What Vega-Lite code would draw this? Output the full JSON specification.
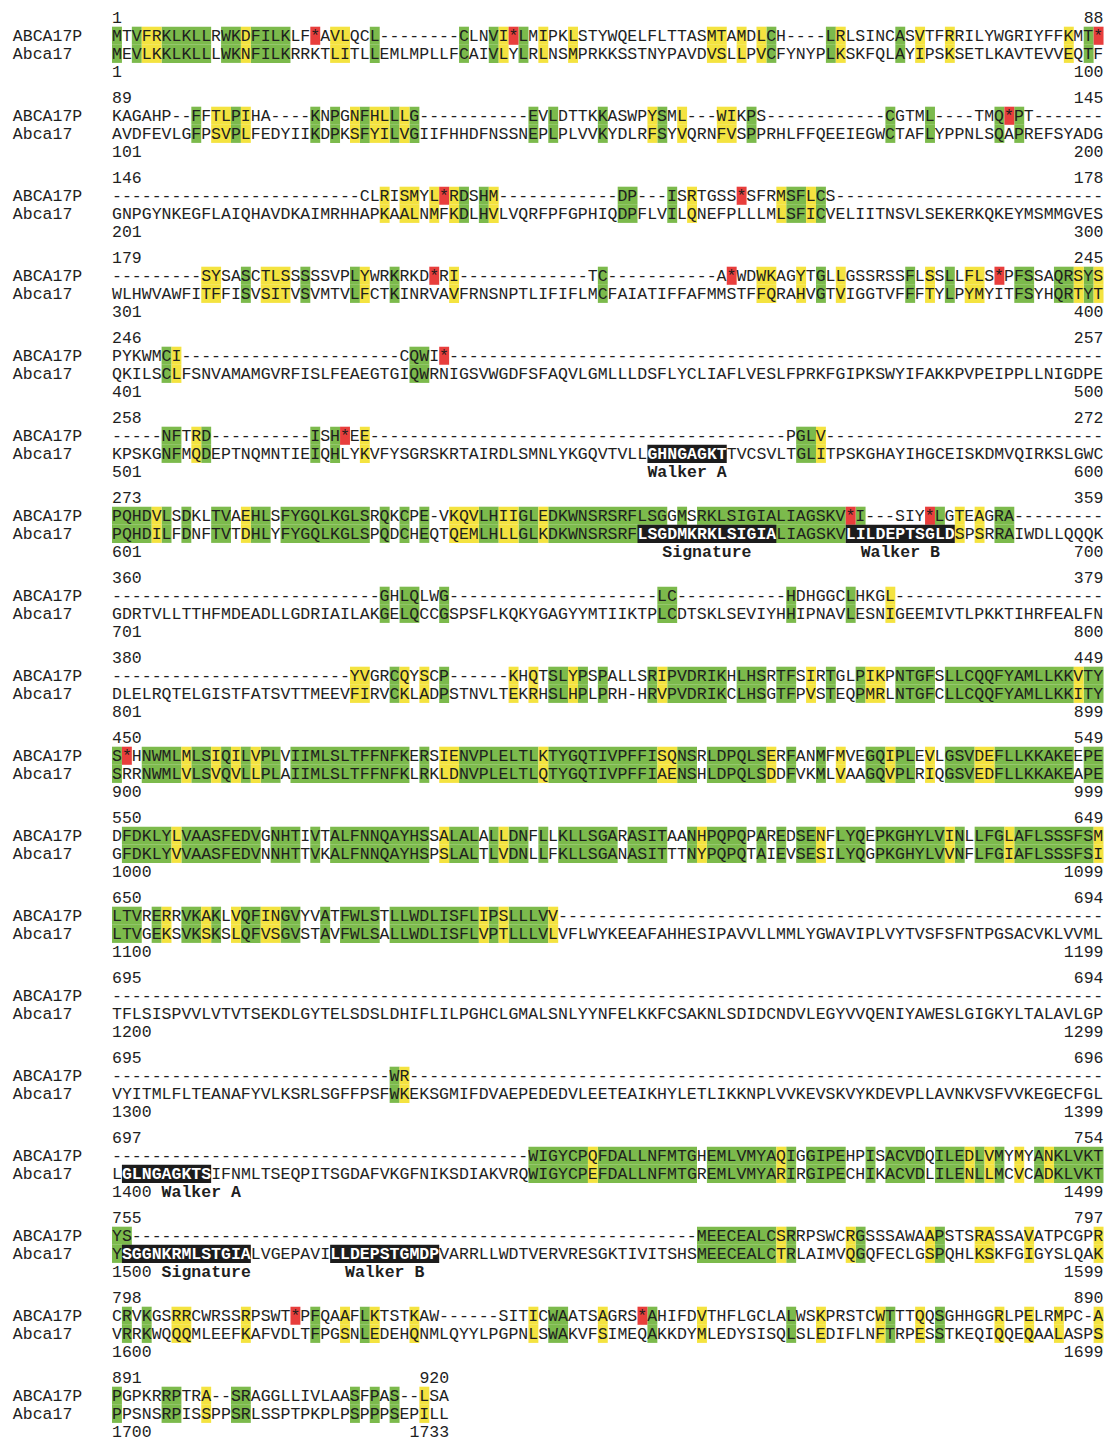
{
"$schema":"https://vega.github.io/schema/vega-lite/v6.json",
"padding":0,
"background":"#ffffff",
"bounds":"flush",
"spacing":0,
"config":{"view":{"stroke":null},"text":{"font":"Liberation Mono","fontSize":16.52,"color":"#1e1e1e"}},
"data":{"values":[
{"k":"s","b":1,"y":"ABCA17P","t":"MTVFRKLKLLRWKDFILKLF*AVLQCL--------CLNVI*LMIPKLSTYWQELFLTTASMTAMDLCH----LRLSINCASVTFRRILYWGRIYFFKMT*"},
{"k":"s","b":1,"y":"Abca17","t":"MEVLKKLKLLLWKNFILKRRKTLITLLEMLMPLLFCAIVLYLRLNSMPRKKSSTNYPAVDVSLLPVCFYNYPLKSKFQLAYIPSKSETLKAVTEVVEQTF"},
{"k":"s","b":2,"y":"ABCA17P","t":"KAGAHP--FFTLPIHA----KNPGNFHLLLG-----------EVLDTTKKASWPYSML---WIKPS------------CGTML----TMQ*PT-------"},
{"k":"s","b":2,"y":"Abca17","t":"AVDFEVLGFPSVPLFEDYIIKDPKSFYILVGIIFHHDFNSSNEPLPLVVKYDLRFSYVQRNFVSPPRHLFFQEEIEGWCTAFLYPPNLSQAPREFSYADG"},
{"k":"s","b":3,"y":"ABCA17P","t":"-------------------------CLRISMYL*RDSHM------------DP---ISRTGSS*SFRMSFLCS---------------------------"},
{"k":"s","b":3,"y":"Abca17","t":"GNPGYNKEGFLAIQHAVDKAIMRHHAPKAALNMFKDLHVLVQRFPFGPHIQDPFLVILQNEFPLLLMLSFICVELIITNSVLSEKERKQKEYMSMMGVES"},
{"k":"s","b":4,"y":"ABCA17P","t":"---------SYSASCTLSSSSSVPLYWRKRKD*RI-------------TC-----------A*WDWKAGYTGLLGSSRSSFLSSLLFLS*PFSSAQRSYS"},
{"k":"s","b":4,"y":"Abca17","t":"WLHWVAWFITFFISVSITVSVMTVLFCTKINRVAVFRNSNPTLIFIFLMCFAIATIFFAFMMSTFFQRAHVGTVIGGTVFFFTYLPYMYITFSYHQRTYT"},
{"k":"s","b":5,"y":"ABCA17P","t":"PYKWMCI----------------------CQWI*------------------------------------------------------------------"},
{"k":"s","b":5,"y":"Abca17","t":"QKILSCLFSNVAMAMGVRFISLFEAEGTGIQWRNIGSVWGDFSFAQVLGMLLLDSFLYCLIAFLVESLFPRKFGIPKSWYIFAKKPVPEIPPLLNIGDPE"},
{"k":"s","b":6,"y":"ABCA17P","t":"-----NFTRD----------ISH*EE------------------------------------------PGLV----------------------------"},
{"k":"s","b":6,"y":"Abca17","t":"KPSKGNFMQDEPTNQMNTIEIQHLYKVFYSGRSKRTAIRDLSMNLYKGQVTVLL"},
{"k":"t","b":6,"y":"Abca17","x0":62,"t":"TVCSVLTGLITPSKGHAYIHGCEISKDMVQIRKSLGWC"},
{"k":"s","b":7,"y":"ABCA17P","t":"PQHDVLSDKLTVAEHLSFYGQLKGLSRQKCPE-VKQVLHIIGLEDKWNSRSRFLSGGMSRKLSIGIALIAGSKV*I---SIY*LGTEAGRA---------"},
{"k":"s","b":7,"y":"Abca17","t":"PQHDILFDNFTVTDHLYFYGQLKGLSPQDCHEQTQEMLHLLGLKDKWNSRSRF"},
{"k":"t","b":7,"y":"Abca17","x0":67,"t":"LIAGSKV"},
{"k":"t","b":7,"y":"Abca17","x0":85,"t":"SPSRRAIWDLLQQQK"},
{"k":"s","b":8,"y":"ABCA17P","t":"---------------------------GHLQLWG---------------------LC-----------HDHGGCLHKGL---------------------"},
{"k":"s","b":8,"y":"Abca17","t":"GDRTVLLTTHFMDEADLLGDRIAILAKGELQCCGSPSFLKQKYGAGYYMTIIKTPLCDTSKLSEVIYHHIPNAVLESNIGEEMIVTLPKKTIHRFEALFN"},
{"k":"s","b":9,"y":"ABCA17P","t":"------------------------YVGRCQYSCP------KHQTSLYPSPALLSRIPVDRIKHLHSRTFSIRTGLPIKPNTGFSLLCQQFYAMLLKKVTY"},
{"k":"s","b":9,"y":"Abca17","t":"DLELRQTELGISTFATSVTTMEEVFIRVCKLADPSTNVLTEKRHSLHPLPRH-HRVPVDRIKCLHSGTFPVSTEQPMRLNTGFCLLCQQFYAMLLKKITY"},
{"k":"s","b":10,"y":"ABCA17P","t":"S*HNWMLMLSIQILVPLVIIMLSLTFFNFKERSIENVPLELTLKTYGQTIVPFFISQNSRLDPQLSERFANMFMVEGQIPLEVLGSVDEFLLKKAKEEPE"},
{"k":"s","b":10,"y":"Abca17","t":"SRRNWMLVLSVQVLLPLAIIMLSLTFFNFKLRKLDNVPLELTLQTYGQTIVPFFIAENSHLDPQLSDDFVKMLVAAGQVPLRIQGSVEDFLLKKAKEAPE"},
{"k":"s","b":11,"y":"ABCA17P","t":"DFDKLYLVAASFEDVGNHTIVTALFNNQAYHSSALALALLDNFLLKLLSGARASITAANHPQPQPAREDSENFLYQEPKGHYLVINLLFGLAFLSSSFSM"},
{"k":"s","b":11,"y":"Abca17","t":"GFDKLYVVAASFEDVNNHTTVKALFNNQAYHSPSLALTLVDNLLFKLLSGANASITTTNYPQPQTAIEVSESILYQGPKGHYLVVNFLFGIAFLSSSFSI"},
{"k":"s","b":12,"y":"ABCA17P","t":"LTVRERRVKAKLVQFINGVYVATFWLSTLLWDLISFLIPSLLLVV-------------------------------------------------------"},
{"k":"s","b":12,"y":"Abca17","t":"LTVGEKSVKSKSLQFVSGVSTAVFWLSALLWDLISFLVPTLLLVLVFLWYKEEAFAHHESIPAVVLLMMLYGWAVIPLVYTVSFSFNTPGSACVKLVVML"},
{"k":"s","b":13,"y":"ABCA17P","t":"----------------------------------------------------------------------------------------------------"},
{"k":"s","b":13,"y":"Abca17","t":"TFLSISPVVLVTVTSEKDLGYTELSDSLDHIFLILPGHCLGMALSNLYYNFELKKFCSAKNLSDIDCNDVLEGYVVQENIYAWESLGIGKYLTALAVLGP"},
{"k":"s","b":14,"y":"ABCA17P","t":"----------------------------WR----------------------------------------------------------------------"},
{"k":"s","b":14,"y":"Abca17","t":"VYITMLFLTEANAFYVLKSRLSGFFPSFWKEKSGMIFDVAEPEDEDVLEETEAIKHYLETLIKKNPLVVKEVSKVYKDEVPLLAVNKVSFVVKEGECFGL"},
{"k":"s","b":15,"y":"ABCA17P","t":"------------------------------------------WIGYCPQFDALLNFMTGHEMLVMYAQIGGIPEHPISACVDQILEDLVMYMYANKLVKT"},
{"k":"s","b":15,"y":"Abca17","t":"L"},
{"k":"t","b":15,"y":"Abca17","x0":10,"t":"IFNMLTSEQPITSGDAFVKGFNIKSDIAKVRQWIGYCPEFDALLNFMTGREMLVMYARIRGIPECHIKACVDLILENLLMCVCADKLVKT"},
{"k":"s","b":16,"y":"ABCA17P","t":"YS---------------------------------------------------------MEECEALCSRRPSWCRGSSSAWAAPSTSRASSAVATPCGPR"},
{"k":"s","b":16,"y":"Abca17","t":"Y"},
{"k":"t","b":16,"y":"Abca17","x0":14,"t":"LVGEPAVI"},
{"k":"t","b":16,"y":"Abca17","x0":33,"t":"VARRLLWDTVERVRESGKTIVITSHSMEECEALCTRLAIMVQGQFECLGSPQHLKSKFGIGYSLQAK"},
{"k":"s","b":17,"y":"ABCA17P","t":"CRVKGSRRCWRSSRPSWT*PFQAAFLKTSTKAW------SITICWAATSAGRS*AHIFDVTHFLGCLALWSKPRSTCWTTTQQSGHHGGRLPELRMPC-A"},
{"k":"s","b":17,"y":"Abca17","t":"VRRKWQQQMLEEFKAFVDLTFPGSNLEDEHQNMLQYYLPGPNLSWAKVFSIMEQAKKDYMLEDYSISQLSLEDIFLNFTRPESSTKEQIQQEQAALASPS"},
{"k":"s","b":18,"y":"ABCA17P","t":"PGPKRRPTRA--SRAGGLLIVLAASFPAS--LSA"},
{"k":"s","b":18,"y":"Abca17","t":"PPSNSRPISSPPSRLSSPTPKPLPSPPPSEPILL"},
{"k":"n","b":1,"y":"top","l":"1","r":"88","e":100},{"k":"n","b":1,"y":"bottom","l":"1","r":"100","e":100},
{"k":"n","b":2,"y":"top","l":"89","r":"145","e":100},{"k":"n","b":2,"y":"bottom","l":"101","r":"200","e":100},
{"k":"n","b":3,"y":"top","l":"146","r":"178","e":100},{"k":"n","b":3,"y":"bottom","l":"201","r":"300","e":100},
{"k":"n","b":4,"y":"top","l":"179","r":"245","e":100},{"k":"n","b":4,"y":"bottom","l":"301","r":"400","e":100},
{"k":"n","b":5,"y":"top","l":"246","r":"257","e":100},{"k":"n","b":5,"y":"bottom","l":"401","r":"500","e":100},
{"k":"n","b":6,"y":"top","l":"258","r":"272","e":100},{"k":"n","b":6,"y":"bottom","l":"501","r":"600","e":100},
{"k":"n","b":7,"y":"top","l":"273","r":"359","e":100},{"k":"n","b":7,"y":"bottom","l":"601","r":"700","e":100},
{"k":"n","b":8,"y":"top","l":"360","r":"379","e":100},{"k":"n","b":8,"y":"bottom","l":"701","r":"800","e":100},
{"k":"n","b":9,"y":"top","l":"380","r":"449","e":100},{"k":"n","b":9,"y":"bottom","l":"801","r":"899","e":100},
{"k":"n","b":10,"y":"top","l":"450","r":"549","e":100},{"k":"n","b":10,"y":"bottom","l":"900","r":"999","e":100},
{"k":"n","b":11,"y":"top","l":"550","r":"649","e":100},{"k":"n","b":11,"y":"bottom","l":"1000","r":"1099","e":100},
{"k":"n","b":12,"y":"top","l":"650","r":"694","e":100},{"k":"n","b":12,"y":"bottom","l":"1100","r":"1199","e":100},
{"k":"n","b":13,"y":"top","l":"695","r":"694","e":100},{"k":"n","b":13,"y":"bottom","l":"1200","r":"1299","e":100},
{"k":"n","b":14,"y":"top","l":"695","r":"696","e":100},{"k":"n","b":14,"y":"bottom","l":"1300","r":"1399","e":100},
{"k":"n","b":15,"y":"top","l":"697","r":"754","e":100},{"k":"n","b":15,"y":"bottom","l":"1400","r":"1499","e":100},
{"k":"n","b":16,"y":"top","l":"755","r":"797","e":100},{"k":"n","b":16,"y":"bottom","l":"1500","r":"1599","e":100},
{"k":"n","b":17,"y":"top","l":"798","r":"890","e":100},{"k":"n","b":17,"y":"bottom","l":"1600","r":"1699","e":100},
{"k":"n","b":18,"y":"top","l":"891","r":"920","e":34},{"k":"n","b":18,"y":"bottom","l":"1700","r":"1733","e":34},
{"k":"m","b":6,"x0":54,"x1":62,"t":"GHNGAGKT"},
{"k":"m","b":7,"x0":53,"x1":67,"t":"LSGDMKRKLSIGIA"},
{"k":"m","b":7,"x0":74,"x1":85,"t":"LILDEPTSGLD"},
{"k":"m","b":15,"x0":1,"x1":10,"t":"GLNGAGKTS"},
{"k":"m","b":16,"x0":1,"x1":14,"t":"SGGNKRMLSTGIA"},
{"k":"m","b":16,"x0":22,"x1":33,"t":"LLDEPSTGMDP"},
{"k":"a","b":6,"x":58,"t":"Walker A"},
{"k":"a","b":7,"x":60,"t":"Signature"},
{"k":"a","b":7,"x":79.5,"t":"Walker B"},
{"k":"a","b":15,"x":9,"t":"Walker A"},
{"k":"a","b":16,"x":9.5,"t":"Signature"},
{"k":"a","b":16,"x":27.5,"t":"Walker B"},
{"k":"c","b":1,"x0":0,"x1":1,"c":"g"},{"k":"c","b":1,"x0":2,"x1":3,"c":"g"},{"k":"c","b":1,"x0":5,"x1":10,"c":"g"},{"k":"c","b":1,"x0":11,"x1":13,"c":"g"},{"k":"c","b":1,"x0":14,"x1":18,"c":"g"},{"k":"c","b":1,"x0":26,"x1":27,"c":"g"},{"k":"c","b":1,"x0":35,"x1":36,"c":"g"},{"k":"c","b":1,"x0":38,"x1":39,"c":"g"},{"k":"c","b":1,"x0":41,"x1":42,"c":"g"},{"k":"c","b":1,"x0":66,"x1":67,"c":"g"},{"k":"c","b":1,"x0":72,"x1":73,"c":"g"},{"k":"c","b":1,"x0":79,"x1":80,"c":"g"},{"k":"c","b":1,"x0":98,"x1":99,"c":"g"},
{"k":"c","b":1,"x0":3,"x1":5,"c":"y"},{"k":"c","b":1,"x0":13,"x1":14,"c":"y"},{"k":"c","b":1,"x0":22,"x1":24,"c":"y"},{"k":"c","b":1,"x0":39,"x1":40,"c":"y"},{"k":"c","b":1,"x0":43,"x1":44,"c":"y"},{"k":"c","b":1,"x0":46,"x1":47,"c":"y"},{"k":"c","b":1,"x0":60,"x1":62,"c":"y"},{"k":"c","b":1,"x0":63,"x1":64,"c":"y"},{"k":"c","b":1,"x0":65,"x1":66,"c":"y"},{"k":"c","b":1,"x0":73,"x1":74,"c":"y"},{"k":"c","b":1,"x0":81,"x1":82,"c":"y"},{"k":"c","b":1,"x0":84,"x1":85,"c":"y"},{"k":"c","b":1,"x0":96,"x1":97,"c":"y"},
{"k":"c","b":1,"x0":20,"x1":21,"c":"r"},{"k":"c","b":1,"x0":40,"x1":41,"c":"r"},{"k":"c","b":1,"x0":99,"x1":100,"c":"r"},
{"k":"c","b":2,"x0":8,"x1":9,"c":"g"},{"k":"c","b":2,"x0":12,"x1":13,"c":"g"},{"k":"c","b":2,"x0":20,"x1":21,"c":"g"},{"k":"c","b":2,"x0":22,"x1":23,"c":"g"},{"k":"c","b":2,"x0":25,"x1":26,"c":"g"},{"k":"c","b":2,"x0":28,"x1":29,"c":"g"},{"k":"c","b":2,"x0":30,"x1":31,"c":"g"},{"k":"c","b":2,"x0":42,"x1":43,"c":"g"},{"k":"c","b":2,"x0":44,"x1":45,"c":"g"},{"k":"c","b":2,"x0":49,"x1":50,"c":"g"},{"k":"c","b":2,"x0":55,"x1":56,"c":"g"},{"k":"c","b":2,"x0":64,"x1":65,"c":"g"},{"k":"c","b":2,"x0":78,"x1":79,"c":"g"},{"k":"c","b":2,"x0":82,"x1":83,"c":"g"},{"k":"c","b":2,"x0":89,"x1":90,"c":"g"},{"k":"c","b":2,"x0":91,"x1":92,"c":"g"},
{"k":"c","b":2,"x0":10,"x1":12,"c":"y"},{"k":"c","b":2,"x0":13,"x1":14,"c":"y"},{"k":"c","b":2,"x0":24,"x1":25,"c":"y"},{"k":"c","b":2,"x0":26,"x1":28,"c":"y"},{"k":"c","b":2,"x0":29,"x1":30,"c":"y"},{"k":"c","b":2,"x0":54,"x1":55,"c":"y"},{"k":"c","b":2,"x0":57,"x1":58,"c":"y"},{"k":"c","b":2,"x0":61,"x1":63,"c":"y"},
{"k":"c","b":2,"x0":90,"x1":91,"c":"r"},
{"k":"c","b":3,"x0":35,"x1":36,"c":"g"},{"k":"c","b":3,"x0":37,"x1":38,"c":"g"},{"k":"c","b":3,"x0":51,"x1":53,"c":"g"},{"k":"c","b":3,"x0":56,"x1":57,"c":"g"},{"k":"c","b":3,"x0":68,"x1":70,"c":"g"},{"k":"c","b":3,"x0":71,"x1":72,"c":"g"},
{"k":"c","b":3,"x0":27,"x1":28,"c":"y"},{"k":"c","b":3,"x0":29,"x1":31,"c":"y"},{"k":"c","b":3,"x0":32,"x1":33,"c":"y"},{"k":"c","b":3,"x0":34,"x1":35,"c":"y"},{"k":"c","b":3,"x0":38,"x1":39,"c":"y"},{"k":"c","b":3,"x0":58,"x1":59,"c":"y"},{"k":"c","b":3,"x0":67,"x1":68,"c":"y"},{"k":"c","b":3,"x0":70,"x1":71,"c":"y"},
{"k":"c","b":3,"x0":33,"x1":34,"c":"r"},{"k":"c","b":3,"x0":63,"x1":64,"c":"r"},
{"k":"c","b":4,"x0":13,"x1":14,"c":"g"},{"k":"c","b":4,"x0":19,"x1":20,"c":"g"},{"k":"c","b":4,"x0":24,"x1":25,"c":"g"},{"k":"c","b":4,"x0":28,"x1":29,"c":"g"},{"k":"c","b":4,"x0":49,"x1":50,"c":"g"},{"k":"c","b":4,"x0":71,"x1":72,"c":"g"},{"k":"c","b":4,"x0":80,"x1":81,"c":"g"},{"k":"c","b":4,"x0":84,"x1":85,"c":"g"},{"k":"c","b":4,"x0":91,"x1":93,"c":"g"},{"k":"c","b":4,"x0":95,"x1":97,"c":"g"},{"k":"c","b":4,"x0":98,"x1":99,"c":"g"},
{"k":"c","b":4,"x0":9,"x1":11,"c":"y"},{"k":"c","b":4,"x0":15,"x1":18,"c":"y"},{"k":"c","b":4,"x0":25,"x1":26,"c":"y"},{"k":"c","b":4,"x0":34,"x1":35,"c":"y"},{"k":"c","b":4,"x0":65,"x1":67,"c":"y"},{"k":"c","b":4,"x0":69,"x1":70,"c":"y"},{"k":"c","b":4,"x0":73,"x1":74,"c":"y"},{"k":"c","b":4,"x0":82,"x1":83,"c":"y"},{"k":"c","b":4,"x0":86,"x1":88,"c":"y"},{"k":"c","b":4,"x0":97,"x1":98,"c":"y"},{"k":"c","b":4,"x0":99,"x1":100,"c":"y"},
{"k":"c","b":4,"x0":32,"x1":33,"c":"r"},{"k":"c","b":4,"x0":62,"x1":63,"c":"r"},{"k":"c","b":4,"x0":89,"x1":90,"c":"r"},
{"k":"c","b":5,"x0":5,"x1":6,"c":"g"},{"k":"c","b":5,"x0":30,"x1":32,"c":"g"},{"k":"c","b":5,"x0":6,"x1":7,"c":"y"},{"k":"c","b":5,"x0":33,"x1":34,"c":"r"},
{"k":"c","b":6,"x0":5,"x1":7,"c":"g"},{"k":"c","b":6,"x0":9,"x1":10,"c":"g"},{"k":"c","b":6,"x0":20,"x1":21,"c":"g"},{"k":"c","b":6,"x0":22,"x1":23,"c":"g"},{"k":"c","b":6,"x0":69,"x1":71,"c":"g"},
{"k":"c","b":6,"x0":8,"x1":9,"c":"y"},{"k":"c","b":6,"x0":25,"x1":26,"c":"y"},{"k":"c","b":6,"x0":71,"x1":72,"c":"y"},{"k":"c","b":6,"x0":23,"x1":24,"c":"r"},
{"k":"c","b":7,"x0":0,"x1":4,"c":"g"},{"k":"c","b":7,"x0":5,"x1":6,"c":"g"},{"k":"c","b":7,"x0":7,"x1":8,"c":"g"},{"k":"c","b":7,"x0":10,"x1":12,"c":"g"},{"k":"c","b":7,"x0":14,"x1":16,"c":"g"},{"k":"c","b":7,"x0":17,"x1":26,"c":"g"},{"k":"c","b":7,"x0":27,"x1":28,"c":"g"},{"k":"c","b":7,"x0":29,"x1":30,"c":"g"},{"k":"c","b":7,"x0":31,"x1":32,"c":"g"},{"k":"c","b":7,"x0":37,"x1":39,"c":"g"},{"k":"c","b":7,"x0":41,"x1":43,"c":"g"},{"k":"c","b":7,"x0":44,"x1":56,"c":"g"},{"k":"c","b":7,"x0":57,"x1":58,"c":"g"},{"k":"c","b":7,"x0":59,"x1":74,"c":"g"},{"k":"c","b":7,"x0":75,"x1":76,"c":"g"},{"k":"c","b":7,"x0":83,"x1":84,"c":"g"},{"k":"c","b":7,"x0":89,"x1":91,"c":"g"},
{"k":"c","b":7,"x0":4,"x1":5,"c":"y"},{"k":"c","b":7,"x0":13,"x1":14,"c":"y"},{"k":"c","b":7,"x0":34,"x1":37,"c":"y"},{"k":"c","b":7,"x0":39,"x1":41,"c":"y"},{"k":"c","b":7,"x0":43,"x1":44,"c":"y"},{"k":"c","b":7,"x0":85,"x1":86,"c":"y"},{"k":"c","b":7,"x0":87,"x1":88,"c":"y"},
{"k":"c","b":7,"x0":74,"x1":75,"c":"r"},{"k":"c","b":7,"x0":82,"x1":83,"c":"r"},
{"k":"c","b":8,"x0":27,"x1":28,"c":"g"},{"k":"c","b":8,"x0":29,"x1":31,"c":"g"},{"k":"c","b":8,"x0":33,"x1":34,"c":"g"},{"k":"c","b":8,"x0":55,"x1":57,"c":"g"},{"k":"c","b":8,"x0":68,"x1":69,"c":"g"},{"k":"c","b":8,"x0":74,"x1":75,"c":"g"},{"k":"c","b":8,"x0":78,"x1":79,"c":"y"},
{"k":"c","b":9,"x0":28,"x1":29,"c":"g"},{"k":"c","b":9,"x0":33,"x1":34,"c":"g"},{"k":"c","b":9,"x0":44,"x1":46,"c":"g"},{"k":"c","b":9,"x0":47,"x1":48,"c":"g"},{"k":"c","b":9,"x0":49,"x1":50,"c":"g"},{"k":"c","b":9,"x0":54,"x1":55,"c":"g"},{"k":"c","b":9,"x0":56,"x1":62,"c":"g"},{"k":"c","b":9,"x0":63,"x1":66,"c":"g"},{"k":"c","b":9,"x0":67,"x1":69,"c":"g"},{"k":"c","b":9,"x0":72,"x1":73,"c":"g"},{"k":"c","b":9,"x0":75,"x1":76,"c":"g"},{"k":"c","b":9,"x0":79,"x1":83,"c":"g"},{"k":"c","b":9,"x0":84,"x1":97,"c":"g"},{"k":"c","b":9,"x0":98,"x1":100,"c":"g"},
{"k":"c","b":9,"x0":24,"x1":26,"c":"y"},{"k":"c","b":9,"x0":29,"x1":30,"c":"y"},{"k":"c","b":9,"x0":31,"x1":32,"c":"y"},{"k":"c","b":9,"x0":40,"x1":41,"c":"y"},{"k":"c","b":9,"x0":42,"x1":43,"c":"y"},{"k":"c","b":9,"x0":46,"x1":47,"c":"y"},{"k":"c","b":9,"x0":55,"x1":56,"c":"y"},{"k":"c","b":9,"x0":70,"x1":71,"c":"y"},{"k":"c","b":9,"x0":76,"x1":78,"c":"y"},{"k":"c","b":9,"x0":97,"x1":98,"c":"y"},
{"k":"c","b":10,"x0":0,"x1":1,"c":"g"},{"k":"c","b":10,"x0":3,"x1":7,"c":"g"},{"k":"c","b":10,"x0":8,"x1":10,"c":"g"},{"k":"c","b":10,"x0":11,"x1":12,"c":"g"},{"k":"c","b":10,"x0":13,"x1":14,"c":"g"},{"k":"c","b":10,"x0":15,"x1":17,"c":"g"},{"k":"c","b":10,"x0":18,"x1":30,"c":"g"},{"k":"c","b":10,"x0":31,"x1":32,"c":"g"},{"k":"c","b":10,"x0":35,"x1":43,"c":"g"},{"k":"c","b":10,"x0":44,"x1":55,"c":"g"},{"k":"c","b":10,"x0":57,"x1":59,"c":"g"},{"k":"c","b":10,"x0":60,"x1":66,"c":"g"},{"k":"c","b":10,"x0":68,"x1":69,"c":"g"},{"k":"c","b":10,"x0":71,"x1":72,"c":"g"},{"k":"c","b":10,"x0":76,"x1":78,"c":"g"},{"k":"c","b":10,"x0":79,"x1":81,"c":"g"},{"k":"c","b":10,"x0":84,"x1":87,"c":"g"},{"k":"c","b":10,"x0":89,"x1":97,"c":"g"},{"k":"c","b":10,"x0":98,"x1":100,"c":"g"},
{"k":"c","b":10,"x0":7,"x1":8,"c":"y"},{"k":"c","b":10,"x0":10,"x1":11,"c":"y"},{"k":"c","b":10,"x0":12,"x1":13,"c":"y"},{"k":"c","b":10,"x0":14,"x1":15,"c":"y"},{"k":"c","b":10,"x0":33,"x1":35,"c":"y"},{"k":"c","b":10,"x0":43,"x1":44,"c":"y"},{"k":"c","b":10,"x0":55,"x1":57,"c":"y"},{"k":"c","b":10,"x0":66,"x1":67,"c":"y"},{"k":"c","b":10,"x0":73,"x1":74,"c":"y"},{"k":"c","b":10,"x0":78,"x1":79,"c":"y"},{"k":"c","b":10,"x0":82,"x1":83,"c":"y"},{"k":"c","b":10,"x0":87,"x1":89,"c":"y"},
{"k":"c","b":10,"x0":1,"x1":2,"c":"r"},
{"k":"c","b":11,"x0":1,"x1":6,"c":"g"},{"k":"c","b":11,"x0":7,"x1":15,"c":"g"},{"k":"c","b":11,"x0":16,"x1":19,"c":"g"},{"k":"c","b":11,"x0":20,"x1":21,"c":"g"},{"k":"c","b":11,"x0":22,"x1":32,"c":"g"},{"k":"c","b":11,"x0":34,"x1":37,"c":"g"},{"k":"c","b":11,"x0":38,"x1":39,"c":"g"},{"k":"c","b":11,"x0":40,"x1":42,"c":"g"},{"k":"c","b":11,"x0":43,"x1":44,"c":"g"},{"k":"c","b":11,"x0":45,"x1":51,"c":"g"},{"k":"c","b":11,"x0":52,"x1":56,"c":"g"},{"k":"c","b":11,"x0":58,"x1":59,"c":"g"},{"k":"c","b":11,"x0":60,"x1":64,"c":"g"},{"k":"c","b":11,"x0":65,"x1":66,"c":"g"},{"k":"c","b":11,"x0":67,"x1":68,"c":"g"},{"k":"c","b":11,"x0":69,"x1":71,"c":"g"},{"k":"c","b":11,"x0":73,"x1":76,"c":"g"},{"k":"c","b":11,"x0":77,"x1":84,"c":"g"},{"k":"c","b":11,"x0":85,"x1":86,"c":"g"},{"k":"c","b":11,"x0":87,"x1":90,"c":"g"},{"k":"c","b":11,"x0":91,"x1":99,"c":"g"},
{"k":"c","b":11,"x0":6,"x1":7,"c":"y"},{"k":"c","b":11,"x0":33,"x1":34,"c":"y"},{"k":"c","b":11,"x0":39,"x1":40,"c":"y"},{"k":"c","b":11,"x0":59,"x1":60,"c":"y"},{"k":"c","b":11,"x0":71,"x1":72,"c":"y"},{"k":"c","b":11,"x0":84,"x1":85,"c":"y"},{"k":"c","b":11,"x0":90,"x1":91,"c":"y"},{"k":"c","b":11,"x0":99,"x1":100,"c":"y"},
{"k":"c","b":12,"x0":0,"x1":3,"c":"g"},{"k":"c","b":12,"x0":4,"x1":5,"c":"g"},{"k":"c","b":12,"x0":7,"x1":9,"c":"g"},{"k":"c","b":12,"x0":10,"x1":11,"c":"g"},{"k":"c","b":12,"x0":13,"x1":15,"c":"g"},{"k":"c","b":12,"x0":17,"x1":19,"c":"g"},{"k":"c","b":12,"x0":21,"x1":22,"c":"g"},{"k":"c","b":12,"x0":23,"x1":27,"c":"g"},{"k":"c","b":12,"x0":28,"x1":37,"c":"g"},{"k":"c","b":12,"x0":38,"x1":39,"c":"g"},{"k":"c","b":12,"x0":40,"x1":44,"c":"g"},
{"k":"c","b":12,"x0":5,"x1":6,"c":"y"},{"k":"c","b":12,"x0":9,"x1":10,"c":"y"},{"k":"c","b":12,"x0":12,"x1":13,"c":"y"},{"k":"c","b":12,"x0":15,"x1":17,"c":"y"},{"k":"c","b":12,"x0":37,"x1":38,"c":"y"},{"k":"c","b":12,"x0":39,"x1":40,"c":"y"},{"k":"c","b":12,"x0":44,"x1":45,"c":"y"},
{"k":"c","b":14,"x0":28,"x1":29,"c":"g"},{"k":"c","b":14,"x0":29,"x1":30,"c":"y"},
{"k":"c","b":15,"x0":42,"x1":48,"c":"g"},{"k":"c","b":15,"x0":49,"x1":59,"c":"g"},{"k":"c","b":15,"x0":60,"x1":67,"c":"g"},{"k":"c","b":15,"x0":68,"x1":69,"c":"g"},{"k":"c","b":15,"x0":70,"x1":74,"c":"g"},{"k":"c","b":15,"x0":76,"x1":77,"c":"g"},{"k":"c","b":15,"x0":78,"x1":82,"c":"g"},{"k":"c","b":15,"x0":83,"x1":86,"c":"g"},{"k":"c","b":15,"x0":87,"x1":88,"c":"g"},{"k":"c","b":15,"x0":89,"x1":90,"c":"g"},{"k":"c","b":15,"x0":93,"x1":94,"c":"g"},{"k":"c","b":15,"x0":95,"x1":100,"c":"g"},
{"k":"c","b":15,"x0":48,"x1":49,"c":"y"},{"k":"c","b":15,"x0":67,"x1":68,"c":"y"},{"k":"c","b":15,"x0":86,"x1":87,"c":"y"},{"k":"c","b":15,"x0":88,"x1":89,"c":"y"},{"k":"c","b":15,"x0":91,"x1":92,"c":"y"},{"k":"c","b":15,"x0":94,"x1":95,"c":"y"},
{"k":"c","b":16,"x0":0,"x1":2,"c":"g"},{"k":"c","b":16,"x0":59,"x1":67,"c":"g"},{"k":"c","b":16,"x0":68,"x1":69,"c":"g"},{"k":"c","b":16,"x0":75,"x1":76,"c":"g"},{"k":"c","b":16,"x0":83,"x1":84,"c":"g"},
{"k":"c","b":16,"x0":67,"x1":68,"c":"y"},{"k":"c","b":16,"x0":74,"x1":75,"c":"y"},{"k":"c","b":16,"x0":82,"x1":83,"c":"y"},{"k":"c","b":16,"x0":87,"x1":89,"c":"y"},{"k":"c","b":16,"x0":92,"x1":93,"c":"y"},{"k":"c","b":16,"x0":99,"x1":100,"c":"y"},
{"k":"c","b":17,"x0":1,"x1":2,"c":"g"},{"k":"c","b":17,"x0":3,"x1":4,"c":"g"},{"k":"c","b":17,"x0":20,"x1":21,"c":"g"},{"k":"c","b":17,"x0":25,"x1":26,"c":"g"},{"k":"c","b":17,"x0":44,"x1":46,"c":"g"},{"k":"c","b":17,"x0":54,"x1":55,"c":"g"},{"k":"c","b":17,"x0":68,"x1":69,"c":"g"},{"k":"c","b":17,"x0":78,"x1":79,"c":"g"},{"k":"c","b":17,"x0":83,"x1":84,"c":"g"},
{"k":"c","b":17,"x0":6,"x1":8,"c":"y"},{"k":"c","b":17,"x0":13,"x1":14,"c":"y"},{"k":"c","b":17,"x0":23,"x1":24,"c":"y"},{"k":"c","b":17,"x0":26,"x1":27,"c":"y"},{"k":"c","b":17,"x0":30,"x1":31,"c":"y"},{"k":"c","b":17,"x0":42,"x1":43,"c":"y"},{"k":"c","b":17,"x0":49,"x1":50,"c":"y"},{"k":"c","b":17,"x0":59,"x1":60,"c":"y"},{"k":"c","b":17,"x0":71,"x1":72,"c":"y"},{"k":"c","b":17,"x0":77,"x1":78,"c":"y"},{"k":"c","b":17,"x0":81,"x1":82,"c":"y"},{"k":"c","b":17,"x0":89,"x1":90,"c":"y"},{"k":"c","b":17,"x0":92,"x1":93,"c":"y"},{"k":"c","b":17,"x0":95,"x1":96,"c":"y"},{"k":"c","b":17,"x0":99,"x1":100,"c":"y"},
{"k":"c","b":17,"x0":18,"x1":19,"c":"r"},{"k":"c","b":17,"x0":53,"x1":54,"c":"r"},
{"k":"c","b":18,"x0":0,"x1":1,"c":"g"},{"k":"c","b":18,"x0":5,"x1":7,"c":"g"},{"k":"c","b":18,"x0":12,"x1":14,"c":"g"},{"k":"c","b":18,"x0":24,"x1":25,"c":"g"},{"k":"c","b":18,"x0":26,"x1":27,"c":"g"},{"k":"c","b":18,"x0":28,"x1":29,"c":"g"},
{"k":"c","b":18,"x0":9,"x1":10,"c":"y"},{"k":"c","b":18,"x0":31,"x1":32,"c":"y"}
]},
"facet":{"row":{"field":"b","type":"ordinal","title":null,"header":{"labels":false,"labelPadding":0,"titlePadding":0}}},
"spec":{
"width":1107,"height":79.6,
"layer":[
{"transform":[{"filter":"datum.k==='c'"}],"mark":{"type":"rect"},
 "encoding":{"x":{"field":"x0","type":"quantitative","scale":{"type":"linear","domain":[-11.296,100.35],"nice":false,"zero":false},"axis":null},"x2":{"field":"x1"},
 "y":{"datum":"ABCA17P","type":"nominal","scale":{"type":"band","domain":["top","ABCA17P","Abca17","bottom"],"range":[8.6,81.0],"paddingInner":0,"paddingOuter":0},"axis":null},
 "color":{"field":"c","type":"nominal","scale":{"domain":["g","y","r"],"range":["#7cba4c","#f4e340","#e83e3c"]},"legend":null}}},
{"transform":[{"filter":"datum.k==='c' && datum.c!=='r'"}],"mark":{"type":"rect"},
 "encoding":{"x":{"field":"x0","type":"quantitative","axis":null},"x2":{"field":"x1"},
 "y":{"datum":"Abca17","type":"nominal","axis":null},
 "color":{"field":"c","type":"nominal","legend":null}}},
{"transform":[{"filter":"datum.k==='m'"}],"mark":{"type":"rect","color":"#1c1c1c"},
 "encoding":{"x":{"field":"x0","type":"quantitative","axis":null},"x2":{"field":"x1"},
 "y":{"datum":"Abca17","type":"nominal","axis":null}}},
{"transform":[{"filter":"datum.k==='s'"}],"mark":{"type":"text","align":"left","baseline":"middle"},
 "encoding":{"x":{"datum":0,"type":"quantitative","axis":null},"y":{"field":"y","type":"nominal","axis":null},"text":{"field":"t"}}},
{"transform":[{"filter":"datum.k==='t'"}],"mark":{"type":"text","align":"left","baseline":"middle"},
 "encoding":{"x":{"field":"x0","type":"quantitative","axis":null},"y":{"field":"y","type":"nominal","axis":null},"text":{"field":"t"}}},
{"transform":[{"filter":"datum.k==='s'"}],"mark":{"type":"text","align":"left","baseline":"middle"},
 "encoding":{"x":{"datum":-10,"type":"quantitative","axis":null},"y":{"field":"y","type":"nominal","axis":null},"text":{"field":"y"}}},
{"transform":[{"filter":"datum.k==='n'"}],"mark":{"type":"text","align":"left","baseline":"middle"},
 "encoding":{"x":{"datum":0,"type":"quantitative","axis":null},"y":{"field":"y","type":"nominal","axis":null},"text":{"field":"l"}}},
{"transform":[{"filter":"datum.k==='n'"}],"mark":{"type":"text","align":"right","baseline":"middle"},
 "encoding":{"x":{"field":"e","type":"quantitative","axis":null},"y":{"field":"y","type":"nominal","axis":null},"text":{"field":"r"}}},
{"transform":[{"filter":"datum.k==='m'"}],"mark":{"type":"text","align":"left","baseline":"middle","color":"#ffffff","fontWeight":"bold"},
 "encoding":{"x":{"field":"x0","type":"quantitative","axis":null},"y":{"datum":"Abca17","type":"nominal","axis":null},"text":{"field":"t"}}},
{"transform":[{"filter":"datum.k==='a'"}],"mark":{"type":"text","align":"center","baseline":"middle","fontWeight":"bold"},
 "encoding":{"x":{"field":"x","type":"quantitative","axis":null},"y":{"datum":"bottom","type":"nominal","axis":null},"text":{"field":"t"}}}
]}
}
